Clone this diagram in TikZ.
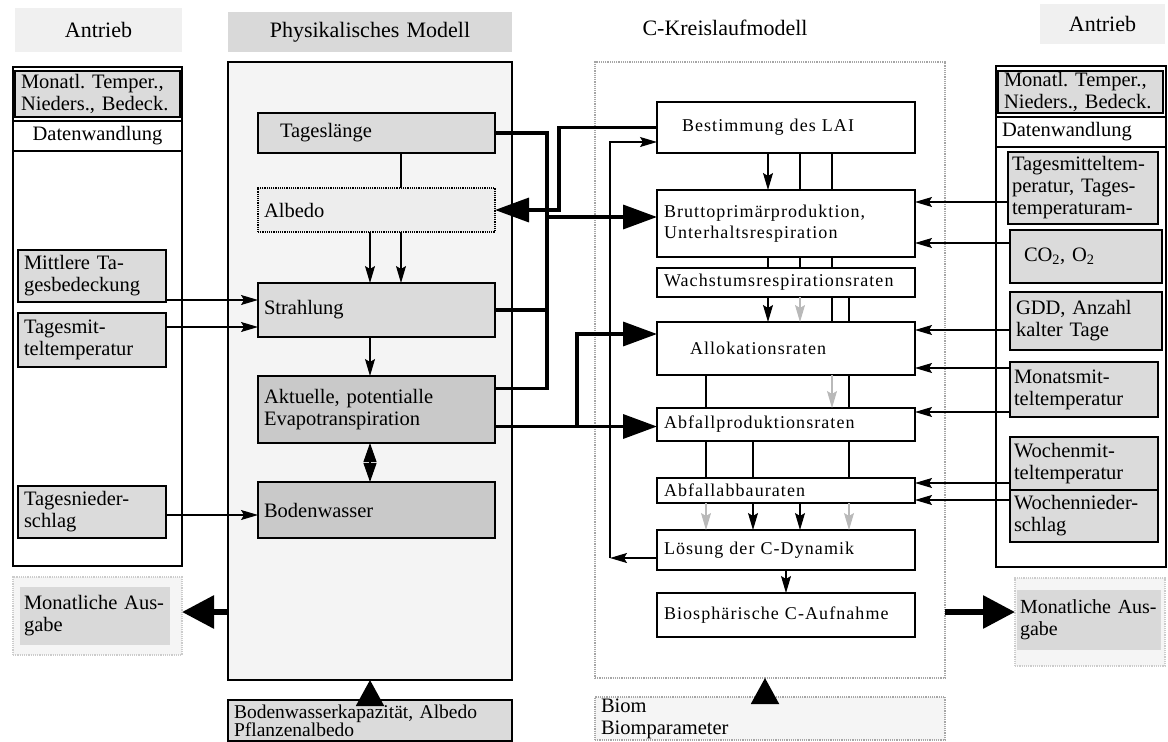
\documentclass[tikz,border=0pt]{standalone}
\usepackage{fontspec}
\setmainfont{Liberation Serif}
\newfontfamily\cfont[LetterSpace=6.0]{Liberation Serif}
\usetikzlibrary{arrows.meta,calc}
\frenchspacing
\tikzset{
  base/.style={anchor=north west, inner xsep=6pt, inner ysep=0pt, outer sep=0pt, line width=1.2pt, align=left, font=\fontsize{20.5}{22}\selectfont},
  frame/.style={base, draw},
  gbox/.style={base, draw, fill=gray!28},
  lbox/.style={base, draw, densely dotted, fill=gray!14},
  dbox/.style={base, draw, fill=gray!42},
  pbox/.style={base, draw, fill=gray!9},
  wbox/.style={base, draw, fill=white, inner xsep=7pt, font=\cfont\fontsize{18}{21}\selectfont},
  cbox/.style={base, draw=gray!70, densely dotted, line width=1.5pt},
  tband/.style={base, align=center, font=\fontsize{22}{24}\selectfont},
  ln/.style={line width=1.1pt},
  arr/.style={line width=1.1pt, -{Stealth[length=17pt,width=10pt,inset=3pt]}},
  garr/.style={arr, color=gray!55},
  darr/.style={line width=1.1pt, {Triangle[length=19pt,width=13pt]}-{Triangle[length=19pt,width=13pt]}},
  thk/.style={line width=3.5pt},
  bigarr/.style={thk, -{Triangle[length=34pt,width=24pt]}},
  outarr/.style={line width=6pt, -{Triangle[length=32pt,width=32pt]}},
  triarr/.style={line width=2pt, -{Triangle[length=26pt,width=28pt]}},
}
\newcommand\bx[7]{\pgfmathsetmacro\bxw{#5-12}\node[#2, text width=\bxw pt, minimum height=#6pt] (#1) at (#3,#4) {#7};}
\begin{document}
\begin{tikzpicture}[x=1pt,y=-1pt]
\useasboundingbox (0,0) rectangle (1168,742);
% helper columns / rows
\coordinate (p370) at (370,0); \coordinate (p401) at (401,0);
\coordinate (ja) at (547,0); \coordinate (jb) at (559,0); \coordinate (jc) at (577,0);
\coordinate (c706) at (706,0); \coordinate (c753) at (753,0); \coordinate (c765) at (765,0);
\coordinate (c768) at (768,0); \coordinate (c786) at (786,0); \coordinate (c800) at (800,0);
\coordinate (c832) at (832,0); \coordinate (c849) at (849,0);
\coordinate (y142) at (0,142); \coordinate (y202) at (0,202); \coordinate (y217) at (0,217);
\coordinate (y243) at (0,243); \coordinate (y300) at (0,300); \coordinate (y327) at (0,327);
\coordinate (y330) at (0,330); \coordinate (y334) at (0,334); \coordinate (y368) at (0,368);
\coordinate (y412) at (0,412); \coordinate (y483) at (0,483); \coordinate (y500) at (0,500);
\coordinate (y515) at (0,515); \coordinate (y612) at (0,612);
\coordinate (fb) at (610,558);

% titles
\bx{tA}{tband, fill=gray!12}{15}{8}{167}{44}{Antrieb}
\bx{tP}{tband, fill=gray!30}{228}{12}{284}{40}{Physikalisches Modell}
\bx{tC}{tband}{600}{8}{250}{40}{C-Kreislaufmodell}
\bx{tR}{tband, fill=gray!12}{1040}{4}{125}{40}{Antrieb}

% left drive panel
\bx{lA}{frame}{13}{67}{169}{499}{}
\bx{lmon}{gbox}{15}{71}{165}{46}{Monatl. Temper.,\\Nieders., Bedeck.}
\bx{ldw}{frame, align=center}{13}{121}{169}{30}{Datenwandlung}
\bx{lmit}{gbox}{18}{250}{148}{52}{Mittlere Ta-\\gesbedeckung}
\bx{ltmt}{gbox}{18}{313}{148}{54}{Tagesmit-\\teltemperatur}
\bx{ltn}{gbox}{18}{486}{148}{52}{Tagesnieder-\\schlag}
\bx{lmaO}{lbox, draw=gray!40, fill=gray!8}{13}{577}{169}{78}{}
\bx{lma}{base, fill=gray!30, inner xsep=4pt}{20}{587}{154}{58}{Monatliche Aus-\\gabe}

% physical model
\bx{phy}{pbox}{228}{62}{284}{618}{}
\bx{tag}{gbox}{258}{113}{237}{40}{\hspace*{16pt}Tageslänge}
\bx{alb}{lbox}{258}{188}{237}{44}{Albedo}
\bx{str}{gbox}{258}{283}{237}{54}{Strahlung}
\bx{akt}{dbox}{258}{376}{237}{67}{Aktuelle, potentialle\\Evapotranspiration}
\bx{bow}{dbox}{258}{482}{237}{56}{Bodenwasser}
\bx{bwk}{gbox, font=\fontsize{19.5}{18}\selectfont}{228}{700}{284}{41}{Bodenwasserkapazität, Albedo\\Pflanzenalbedo}

% C model
\bx{cm}{cbox}{595}{62}{350}{616}{}
\bx{lai}{wbox}{657}{102}{256}{51}{\hspace*{18pt}Bestimmung des LAI}
\bx{bru}{wbox}{657}{190}{256}{67}{Bruttoprimärproduktion,\\Unterhaltsrespiration}
\bx{wac}{wbox}{657}{268}{256}{29}{Wachstumsrespirationsraten}
\bx{all}{wbox}{657}{322}{256}{53}{\hspace*{26pt}Allokationsraten\\[6pt]}
\bx{afp}{wbox}{657}{408}{256}{33}{Abfallproduktionsraten}
\bx{afa}{wbox}{657}{478}{256}{25}{Abfallabbauraten}
\bx{los}{wbox}{657}{530}{256}{40}{Lösung der C-Dynamik}
\bx{bio}{wbox}{657}{593}{256}{44}{Biosphärische C-Aufnahme}
\bx{biom}{base, draw=gray!70, densely dotted, fill=gray!8}{595}{697}{350}{43}{Biom\\Biomparameter}

% right drive panel
\bx{rA}{frame}{996}{66}{170}{501}{}
\bx{rmon}{gbox}{998}{71}{165}{42}{Monatl. Temper.,\\Nieders., Bedeck.}
\bx{rdw}{frame}{996}{117}{170}{30}{Datenwandlung}
\bx{rtm}{gbox, inner xsep=4pt}{1008}{152}{154}{72}{Tagesmitteltem-\\peratur, Tages-\\temperaturam-}
\bx{rco}{gbox}{1010}{230}{152}{53}{\hspace*{8pt}CO\textsubscript{2}, O\textsubscript{2}}
\bx{rgdd}{gbox}{1010}{292}{152}{58}{GDD, Anzahl\\kalter Tage}
\bx{rmm}{gbox, inner xsep=4pt}{1010}{362}{152}{55}{Monatsmit-\\teltemperatur}
\bx{rwm}{gbox, inner xsep=4pt}{1010}{437}{152}{53}{Wochenmit-\\teltemperatur}
\bx{rwn}{gbox, inner xsep=4pt}{1010}{490}{152}{52}{Wochennieder-\\schlag}
\bx{rmaO}{lbox, draw=gray!40, fill=gray!8}{1015}{578}{150}{88}{}
\bx{rma}{base, fill=gray!30, inner xsep=3pt, font=\fontsize{20}{22}\selectfont}{1017}{590}{150}{60}{Monatliche Aus-\\gabe}

% physical internal connectors
\draw[ln] (tag.south -| p401) -- (alb.north -| p401);
\draw[arr] (alb.south -| p370) -- (str.north -| p370);
\draw[arr] (alb.south -| p401) -- (str.north -| p401);
\draw[arr] (str.south -| p370) -- (akt.north -| p370);
\draw[darr] (akt.south -| p370) -- (bow.north -| p370);

% left drive inputs
\draw[arr] (lmit.east |- y300) -- (str.west |- y300);
\draw[arr] (ltmt.east |- y327) -- (str.west |- y327);
\draw[arr] (ltn.east |- y515) -- (bow.west |- y515);

% thick couplings
\coordinate (akt1) at ($(akt.east)+(0,-21)$);
\coordinate (akt2) at ($(akt.east)+(0,17)$);
\draw[thk] (tag.east) -| (ja |- akt1) -- (akt1);
\draw[thk] (str.east) -- (str.east -| ja);
\draw[bigarr] (ja |- y217) -- (bru.west |- y217);
\draw[bigarr] (lai.west) -| (jb |- alb.east) -- (alb.east);
\draw[bigarr] (akt2) -- (afp.west |- akt2);
\draw[bigarr] (jc |- akt2) |- (all.west |- y334);

% C internal connectors
\draw[arr] (lai.south -| c768) -- (bru.north -| c768);
\draw[ln] (lai.south -| c800) -- (bru.north -| c800);
\draw[ln] (lai.south -| c832) -- (bru.north -| c832);
\draw[ln] (bru.south -| c768) -- (wac.north -| c768);
\draw[ln] (bru.south -| c800) -- (wac.north -| c800);
\draw[ln] (bru.south -| c832) -- (wac.north -| c832);
\draw[arr] (wac.south -| c768) -- (all.north -| c768);
\draw[garr] (wac.south -| c800) -- (all.north -| c800);
\draw[ln] (wac.south -| c832) -- (all.north -| c832);
\draw[ln] (wac.south -| c849) -- (all.north -| c849);
\draw[ln] (all.south -| c706) -- (afp.north -| c706);
\draw[garr] (all.south -| c832) -- (afp.north -| c832);
\draw[ln] (all.south -| c849) -- (afp.north -| c849);
\draw[ln] (afp.south -| c706) -- (afa.north -| c706);
\draw[ln] (afp.south -| c753) -- (afa.north -| c753);
\draw[ln] (afp.south -| c849) -- (afa.north -| c849);
\draw[garr] (afa.south -| c706) -- (los.north -| c706);
\draw[arr] (afa.south -| c753) -- (los.north -| c753);
\draw[arr] (afa.south -| c800) -- (los.north -| c800);
\draw[garr] (afa.south -| c849) -- (los.north -| c849);
\draw[arr] (los.south -| c786) -- (bio.north -| c786);
\draw[arr] (los.west |- fb) -- (fb);
\draw[arr] (fb) |- (lai.west |- y142);

% right drive inputs
\draw[arr] (rtm.west |- y202) -- (bru.east |- y202);
\draw[arr] (rco.west |- y243) -- (bru.east |- y243);
\draw[arr] (rgdd.west |- y330) -- (all.east |- y330);
\draw[arr] (rmm.west |- y368) -- (all.east |- y368);
\draw[arr] (rmm.west |- y412) -- (afp.east |- y412);
\draw[arr] (rwm.west |- y483) -- (afa.east |- y483);
\draw[arr] (rwn.west |- y500) -- (afa.east |- y500);

% outputs and parameter inputs
\draw[outarr] (phy.west |- y612) -- (lmaO.east |- y612);
\draw[outarr] (cm.east |- y612) -- (rmaO.west |- y612);
\draw[triarr] (bwk.north -| p370) -- (phy.south -| p370);
\draw[triarr] (biom.north -| c765) -- (cm.south -| c765);
\end{tikzpicture}
\end{document}
